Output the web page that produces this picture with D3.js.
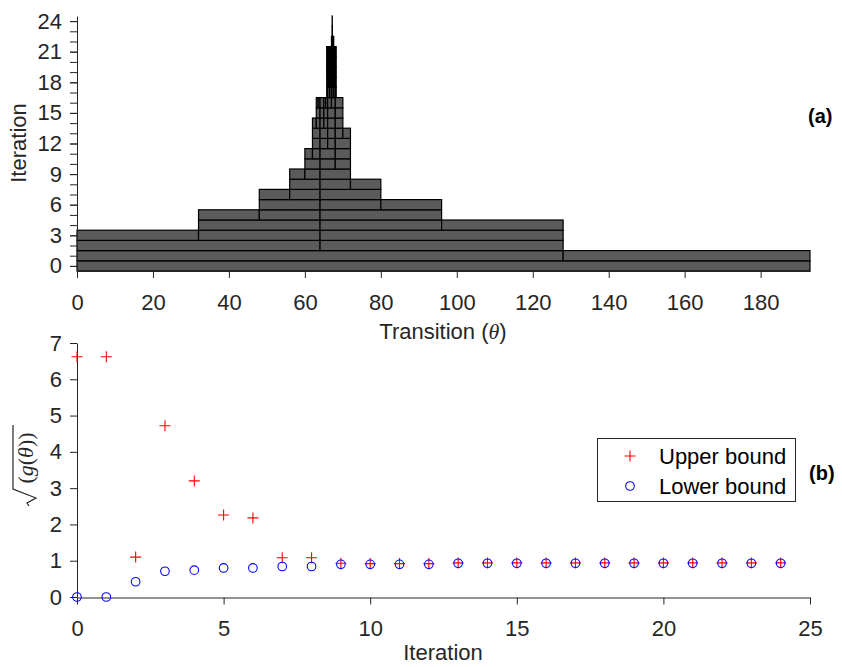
<!DOCTYPE html>
<html>
<head>
<meta charset="utf-8">
<script src="https://cdn.jsdelivr.net/npm/d3@7"></script>
<style>
  body { margin: 0; background: #fff; }
  svg { font-family: "Liberation Sans", Arial, sans-serif; }
  .axis path, .axis line { stroke: #262626; }
  .axis text { fill: #262626; font-size: 22px; font-family: "Liberation Sans", Arial, sans-serif; }
</style>
</head>
<body>
<svg id="fig" width="842" height="667"></svg>
<script>
// Interval breakpoints kept at each iteration (row i = iteration i).
var iteration_breaks = [
    [0, 193],
    [0, 128, 193],
    [0, 64, 128],
    [0, 32, 64, 128],
    [32, 64, 96, 128],
    [32, 48, 64, 96],
    [48, 64, 80, 96],
    [48, 56, 64, 80],
    [56, 64, 72, 80],
    [56, 60, 64, 72],
    [60, 64, 68, 72],
    [60, 62, 64, 68, 72],
    [62, 64, 66, 68, 72],
    [62, 64, 66, 68, 70, 72],
    [62, 63, 64, 65, 66, 68, 70],
    [63, 64, 65, 66, 68, 70],
    [63, 63.5, 64, 65, 65.5, 66, 67, 68, 70],
    [65.75, 66, 66.5, 67, 67.5, 68, 68.25],
    [65.75, 66, 66.25, 66.5, 66.75, 67, 67.25, 67.5, 67.75, 68, 68.25],
    [65.75, 65.875, 66, 66.25, 66.5, 66.625, 66.75, 67, 67.125, 67.25, 67.5, 67.75, 68, 68.25],
    [65.75, 65.875, 66, 66.125, 66.25, 66.5, 66.625, 66.75, 66.875, 67, 67.125, 67.25, 67.375, 67.5, 67.75, 67.875, 68, 68.25],
    [65.75, 65.875, 66, 66.125, 66.25, 66.375, 66.5, 66.625, 66.75, 66.875, 67, 67.125, 67.25, 67.375, 67.5, 67.625, 67.75, 67.875, 68, 68.25],
    [67.0, 67.2, 67.4, 67.6],
    [67.15, 67.25],
    [67.18, 67.22]
];

var iterations = d3.range(0, 25);
var upper_bound = [6.62, 6.62, 1.10, 4.72, 3.20, 2.26, 2.18, 1.08, 1.08, 0.93, 0.92, 0.92, 0.92,
                   0.94, 0.94, 0.94, 0.94, 0.94, 0.94, 0.94, 0.94, 0.94, 0.94, 0.94, 0.94];
var lower_bound = [0, 0, 0.42, 0.71, 0.74, 0.80, 0.80, 0.84, 0.84, 0.90, 0.90, 0.90, 0.90,
                   0.93, 0.93, 0.93, 0.93, 0.93, 0.93, 0.93, 0.93, 0.93, 0.93, 0.93, 0.93];

var top_x_ticks = [0, 20, 40, 60, 80, 100, 120, 140, 160, 180];
var top_y_ticks = [0, 3, 6, 9, 12, 15, 18, 21, 24];
var bot_x_ticks = [0, 5, 10, 15, 20, 25];
var bot_y_ticks = [0, 1, 2, 3, 4, 5, 6, 7];
var legend_labels = ['Upper bound', 'Lower bound'];

var svg = d3.select('#fig');
var text_color = '#262626';
var font_size = 22;

/* ---- (a) interval refinement ---- */
var x_top = d3.scaleLinear().domain([0, 193]).range([77, 810]);
var y_top = d3.scaleLinear().domain([-0.5, 24.5]).range([271, 16]);

var cells = [];
iteration_breaks.forEach(function (brks, it) {
    for (var k = 0; k < brks.length - 1; k++) {
        cells.push({ it: it, lo: brks[k], hi: brks[k + 1] });
    }
});

svg.append('g')
    .selectAll('rect.cell')
    .data(cells)
    .enter()
    .append('rect')
    .attr('class', 'cell')
    .attr('x', function (d) { return x_top(d.lo); })
    .attr('y', function (d) { return y_top(d.it + 0.5); })
    .attr('width', function (d) { return x_top(d.hi) - x_top(d.lo); })
    .attr('height', function (d) { return y_top(d.it - 0.5) - y_top(d.it + 0.5); })
    .attr('fill', '#5b5b5b')
    .attr('stroke', '#000')
    .attr('stroke-width', 1.2);

svg.append('g')
    .attr('class', 'axis')
    .attr('transform', 'translate(0,271)')
    .call(d3.axisBottom(x_top).tickValues(top_x_ticks).tickSize(7)
            .tickSizeOuter(0).tickPadding(16));

// minor ticks on every iteration
svg.append('g')
    .attr('class', 'axis')
    .attr('transform', 'translate(77,0)')
    .call(d3.axisLeft(y_top).tickValues(iterations).tickFormat('').tickSize(7).tickSizeOuter(0))
    .select('.domain').remove();

svg.append('g')
    .attr('class', 'axis')
    .attr('transform', 'translate(77,0)')
    .call(d3.axisLeft(y_top).tickValues(top_y_ticks).tickSize(7)
            .tickSizeOuter(0).tickPadding(8));

var t_lab = svg.append('text')
    .attr('x', 443).attr('y', 339)
    .attr('text-anchor', 'middle')
    .attr('font-size', font_size)
    .attr('fill', text_color);
t_lab.append('tspan').text('Transition (');
t_lab.append('tspan').attr('font-family', '"Liberation Serif", serif')
    .attr('font-style', 'italic').text('θ');
t_lab.append('tspan').text(')');

svg.append('text')
    .attr('transform', 'translate(26,143) rotate(-90)')
    .attr('text-anchor', 'middle')
    .attr('font-size', font_size)
    .attr('fill', text_color)
    .text('Iteration');

svg.append('text')
    .attr('x', 808).attr('y', 123)
    .attr('font-size', 20).attr('font-weight', 'bold')
    .attr('fill', '#000')
    .text('(a)');

/* ---- (b) bounds ---- */
var x_bot = d3.scaleLinear().domain([0, 25]).range([77, 810]);
var y_bot = d3.scaleLinear().domain([0, 7]).range([597, 343]);

svg.append('g')
    .attr('class', 'axis')
    .attr('transform', 'translate(0,597.5)')
    .call(d3.axisBottom(x_bot).tickValues(bot_x_ticks).tickSize(7)
            .tickSizeOuter(0).tickPadding(16));

svg.append('g')
    .attr('class', 'axis')
    .attr('transform', 'translate(77,0)')
    .call(d3.axisLeft(y_bot).tickValues(bot_y_ticks).tickFormat(d3.format('d'))
            .tickSize(7).tickSizeOuter(0).tickPadding(8));

var plus_path = 'M-5.5,0H5.5M0,-5.5V5.5';

svg.append('g')
    .selectAll('path.upper')
    .data(iterations)
    .enter()
    .append('path')
    .attr('class', 'upper')
    .attr('transform', function (d) {
        return 'translate(' + x_bot(d) + ',' + y_bot(upper_bound[d]) + ')';
    })
    .attr('d', plus_path)
    .attr('stroke', '#ff0000')
    .attr('stroke-width', 1.1)
    .attr('fill', 'none');

svg.append('g')
    .selectAll('circle.lower')
    .data(iterations)
    .enter()
    .append('circle')
    .attr('class', 'lower')
    .attr('cx', function (d) { return x_bot(d); })
    .attr('cy', function (d) { return y_bot(lower_bound[d]); })
    .attr('r', 4.3)
    .attr('stroke', '#0000ff')
    .attr('stroke-width', 1.1)
    .attr('fill', 'none');

svg.append('text')
    .attr('x', 443).attr('y', 660)
    .attr('text-anchor', 'middle')
    .attr('font-size', font_size)
    .attr('fill', text_color)
    .text('Iteration');

// y label: sqrt(g(theta)), drawn rotated
var ylab = svg.append('g').attr('transform', 'translate(33,463) rotate(-90)');
var ylab_text = ylab.append('text')
    .attr('x', 5).attr('y', 0)
    .attr('text-anchor', 'middle')
    .attr('font-size', 22)
    .attr('font-family', '"Liberation Serif", serif')
    .attr('fill', text_color);
ylab_text.append('tspan').text('(');
ylab_text.append('tspan').attr('font-style', 'italic').text('g');
ylab_text.append('tspan').text('(');
ylab_text.append('tspan').attr('font-style', 'italic').text('θ');
ylab_text.append('tspan').text('))');
ylab.append('path')
    .attr('d', 'M38,-20H-26L-35,3L-40,-6L-43,-4')
    .attr('fill', 'none')
    .attr('stroke', text_color)
    .attr('stroke-width', 1.2);

// legend
var legend = svg.append('g');
legend.append('rect')
    .attr('x', 597.5).attr('y', 438.5)
    .attr('width', 198).attr('height', 63)
    .attr('fill', '#fff')
    .attr('stroke', text_color)
    .attr('stroke-width', 1);

legend.append('path')
    .attr('transform', 'translate(630,456)')
    .attr('d', plus_path)
    .attr('stroke', '#ff0000').attr('stroke-width', 1.1).attr('fill', 'none');
legend.append('circle')
    .attr('cx', 630).attr('cy', 486).attr('r', 4.3)
    .attr('stroke', '#0000ff').attr('stroke-width', 1.1).attr('fill', 'none');

legend.selectAll('text')
    .data(legend_labels)
    .enter()
    .append('text')
    .attr('x', 659)
    .attr('y', function (d, i) { return 464 + i * 30; })
    .attr('font-size', font_size)
    .attr('fill', '#000')
    .text(function (d) { return d; });

svg.append('text')
    .attr('x', 809).attr('y', 480)
    .attr('font-size', 20).attr('font-weight', 'bold')
    .attr('fill', '#000')
    .text('(b)');
</script>
</body>
</html>
